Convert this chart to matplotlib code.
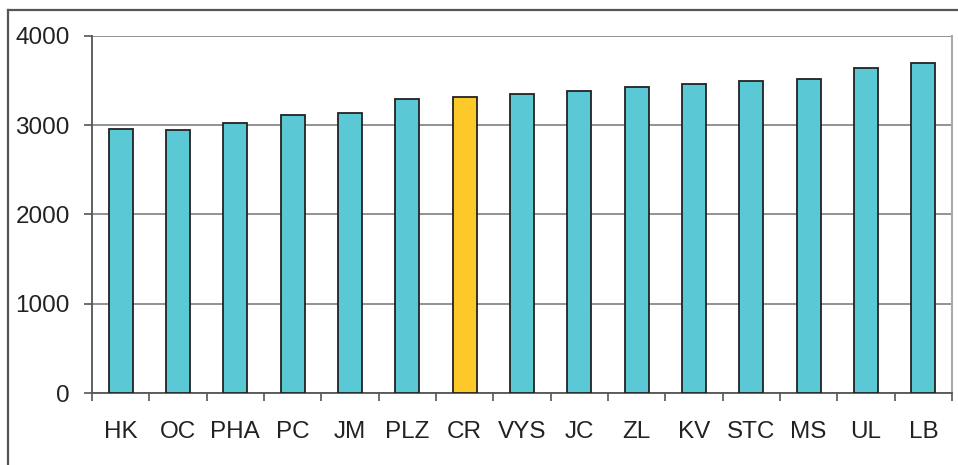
import matplotlib
matplotlib.use("Agg")
import matplotlib.pyplot as plt
from matplotlib.lines import Line2D
import numpy as np

categories = ["HK", "OC", "PHA", "PC", "JM", "PLZ", "CR", "VYS", "JC", "ZL", "KV", "STC", "MS", "UL", "LB"]
values = [2955, 2952, 3026, 3114, 3140, 3296, 3318, 3345, 3386, 3430, 3457, 3494, 3514, 3645, 3693]
highlight = "CR"
yticks = [0, 1000, 2000, 3000, 4000]

plt.rcParams['font.family'] = ['Liberation Sans', 'DejaVu Sans']

W, H = 958, 465
fig = plt.figure(figsize=(W / 100, H / 100), dpi=100)
ax = fig.add_axes([92 / W, (H - 393) / H, (952 - 92) / W, (393 - 36) / H])

x = np.arange(len(categories))
colors = ["#FDC82A" if c == highlight else "#5BC8D6" for c in categories]
ax.bar(x, values, width=0.42, color=colors, edgecolor="#222222", linewidth=1.3, zorder=3)

ax.set_xlim(-0.5, len(categories) - 0.5)
ax.set_ylim(0, 4000)
ax.set_yticks(yticks)
ax.set_yticklabels([str(v) for v in yticks])
ax.yaxis.grid(True, color="#8a8a8a", linewidth=1.3, zorder=0)
ax.set_axisbelow(True)

ax.set_xticks(x)
ax.set_xticklabels(categories)
ax.set_xticks(np.arange(-0.5, len(categories)), minor=True)
ax.tick_params(axis="x", which="major", length=0, pad=20, labelsize=17.5, labelcolor="#222222")
ax.tick_params(axis="x", which="minor", length=6, width=1.2, color="#555555", direction="out")
ax.tick_params(axis="y", length=6, width=1.2, color="#555555", pad=10, labelsize=17.5, labelcolor="#222222")

for s in ["left", "bottom"]:
    ax.spines[s].set_color("#555555")
    ax.spines[s].set_linewidth(1.3)
ax.spines["right"].set_color("#aaaaaa")
ax.spines["right"].set_linewidth(1.5)
ax.spines["top"].set_visible(False)

# outer frame (partly clipped by the image edge)
fig.add_artist(Line2D([8 / W, 8 / W], [0, 1 - 10 / H], transform=fig.transFigure, color="#555555", linewidth=1.6))
fig.add_artist(Line2D([8 / W, 1.0], [1 - 10 / H, 1 - 10 / H], transform=fig.transFigure, color="#555555", linewidth=1.6))

fig.savefig("out.png", dpi=100)
